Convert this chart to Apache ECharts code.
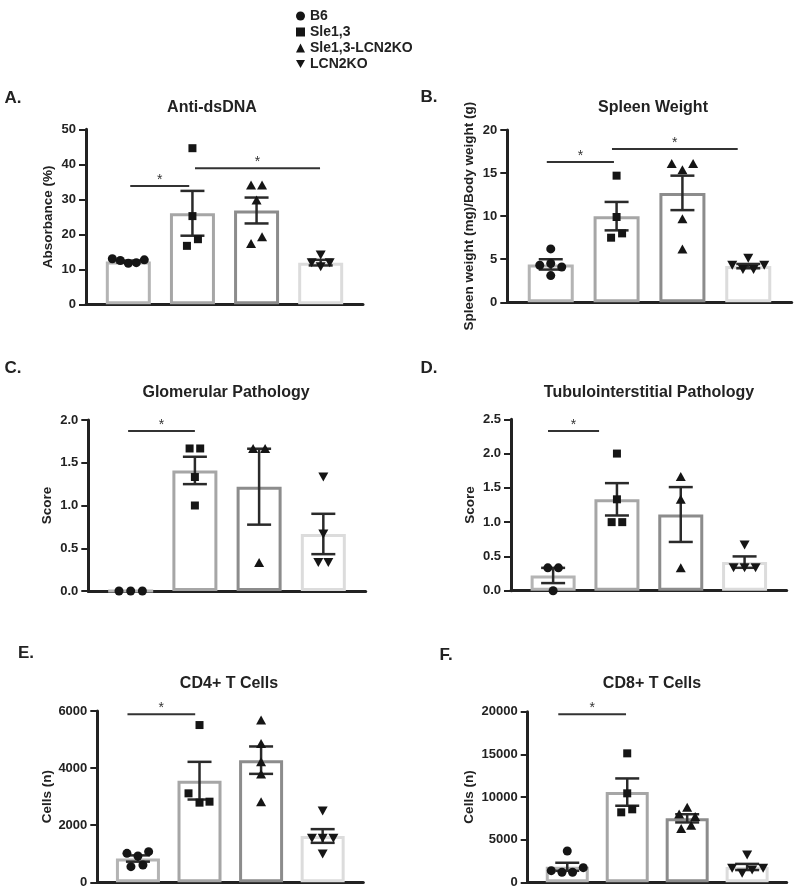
<!DOCTYPE html>
<html><head><meta charset="utf-8">
<script src="https://cdn.jsdelivr.net/npm/echarts@6/dist/echarts.min.js"></script>
<style>html,body{margin:0;padding:0;background:#fff}#c{width:800px;height:896px}</style>
</head><body><div id="c"></div>
<script>
// ---------- DATA ----------
const groups = ['B6', 'Sle1,3', 'Sle1,3-LCN2KO', 'LCN2KO'];

// A. Anti-dsDNA
const titleA = 'Anti-dsDNA';
const yNameA = 'Absorbance (%)';
const ticksA = [0, 10, 20, 30, 40, 50];
const meanA = [12.2, 26.0, 26.8, 11.9];
const semA = [0.3, 6.4, 3.7, 0.8];
const ptsA = [[13.0, 12.5, 11.7, 11.9, 12.7], [44.6, 25.2, 16.7, 18.6], [34.1, 34.1, 29.8, 17.4, 19.3], [14.1, 11.9, 10.7, 11.9]];
const sigA = [[0.03, 0.95, 33.8], [1.04, 2.99, 38.9]];

// B. Spleen Weight
const titleB = 'Spleen Weight';
const yNameB = 'Spleen weight (mg)/Body weight (g)';
const ticksB = [0, 5, 10, 15, 20];
const meanB = [4.4, 10.0, 12.7, 4.2];
const semB = [0.6, 1.65, 2.0, 0.25];
const ptsB = [[6.2, 4.3, 4.5, 4.1, 3.1], [14.7, 9.9, 7.5, 8.0], [16.1, 15.4, 16.1, 9.7, 6.2], [5.1, 4.3, 4.3, 3.8, 3.8]];
const sigB = [[-0.06, 0.96, 16.3], [0.93, 2.84, 17.8]];

// C. Glomerular Pathology
const titleC = 'Glomerular Pathology';
const yNameC = 'Score';
const ticksC = [0, 0.5, 1.0, 1.5, 2.0];
const meanC = [0, 1.41, 1.22, 0.667];
const semC = [0, 0.16, 0.444, 0.236];
const ptsC = [[0, 0, 0], [1.667, 1.667, 1.333, 1.0], [1.667, 1.667, 0.333], [1.333, 0.667, 0.333, 0.333]];
const sigC = [[-0.04, 1.0, 1.87]];

// D. Tubulointerstitial Pathology
const titleD = 'Tubulointerstitial Pathology';
const yNameD = 'Score';
const ticksD = [0, 0.5, 1.0, 1.5, 2.0, 2.5];
const meanD = [0.222, 1.333, 1.111, 0.417];
const semD = [0.111, 0.236, 0.4, 0.083];
const ptsD = [[0.333, 0.333, 0], [2.0, 1.333, 1.0, 1.0], [1.667, 1.333, 0.333], [0.667, 0.333, 0.333, 0.333]];
const sigD = [[-0.08, 0.72, 2.33]];

// E. CD4+ T Cells
const titleE = 'CD4+ T Cells';
const yNameE = 'Cells (n)';
const ticksE = [0, 2000, 4000, 6000];
const meanE = [833, 3559, 4278, 1622];
const semE = [110, 660, 480, 240];
const ptsE = [[1015, 922, 1074, 548, 607], [5508, 3116, 2789, 2824], [5683, 4866, 4224, 3792, 2824], [2497, 1540, 1540, 1540, 992]];
const sigE = [[-0.17, 0.93, 5882]];

// F. CD8+ T Cells
const titleF = 'CD8+ T Cells';
const yNameF = 'Cells (n)';
const ticksF = [0, 5000, 10000, 15000, 20000];
const meanF = [1820, 10576, 7500, 1797];
const semF = [470, 1600, 480, 360];
const ptsF = [[3672, 1367, 1172, 1172, 1719], [15117, 10430, 8203, 8555], [8800, 8000, 7700, 6700, 6300], [3202, 1642, 1056, 1443, 1642]];
const sigF = [[-0.15, 0.98, 19700]];

// ---------- LAYOUT / STYLE ----------
const FONT = '"Liberation Sans", Arial, Helvetica, sans-serif';
const INK = '#222';
const barColors = ['#b4b4b4', '#a6a6a6', '#8c8c8c', '#dcdcdc'];
const symbols = ['circle', 'rect', 'triangle', 'path://M0,0L10,0L5,9Z'];
const symSizes = [9, 8, [10, 9], [10, 9]];

// horizontal spread of points (pixels) within each group
const jitA = [[-16, -8, 0, 8, 16], [0, 0, -5.5, 5.5], [-5.5, 5.5, 0, -5.5, 5.5], [0, -9, 0, 9]];
const jitB = [[0, -11, 0, 11, 0], [0, 0, -5.5, 5.5], [-10.7, 0, 10.7, 0, 0], [0, -16, 16, -5.3, 5.3]];
const jitC = [[-11.7, 0, 11.7], [-5.3, 5.3, 0, 0], [-6, 6, 0], [0, 0, -5, 5]];
const jitD = [[-5.3, 5.3, 0], [0, 0, -5.3, 5.3], [0, 0, 0], [0, -11, 0, 11]];
const jitE = [[-11, 0, 10.7, -7, 5], [0, -11, 0, 10], [0, 0, 0, 0, 0], [0, -10.7, 0, 10.7, 0]];
const jitF = [[0, -16, -5.3, 5.3, 16], [0, 0, -6, 5], [0, -8, 8, 4, -6], [0, -15, -5, 5, 16]];

const panels = [
  {letter: 'A.', lx: 13, ly: 98, title: titleA, tx: 212, ty: 108, yName: yNameA, ticks: ticksA, mean: meanA, sem: semA, pts: ptsA, sig: sigA, jit: jitA,
   grid: {left: 86, top: 129.3, width: 277, height: 175}, nameGap: 31, barW: 45, dec: 0},
  {letter: 'B.', lx: 429, ly: 97, title: titleB, tx: 653, ty: 108, yName: yNameB, ticks: ticksB, mean: meanB, sem: semB, pts: ptsB, sig: sigB, jit: jitB,
   grid: {left: 507.3, top: 130, width: 284.4, height: 172.3}, nameGap: 31, barW: 46, dec: 0},
  {letter: 'C.', lx: 13, ly: 368, title: titleC, tx: 226, ty: 393, yName: yNameC, ticks: ticksC, mean: meanC, sem: semC, pts: ptsC, sig: sigC, jit: jitC,
   grid: {left: 88.3, top: 420, width: 277.4, height: 171}, nameGap: 34, barW: 45, dec: 1},
  {letter: 'D.', lx: 429, ly: 368, title: titleD, tx: 649, ty: 393, yName: yNameD, ticks: ticksD, mean: meanD, sem: semD, pts: ptsD, sig: sigD, jit: jitD,
   grid: {left: 511, top: 419.3, width: 275.7, height: 171.4}, nameGap: 34, barW: 45, dec: 1},
  {letter: 'E.', lx: 26, ly: 653, title: titleE, tx: 229, ty: 684, yName: yNameE, ticks: ticksE, mean: meanE, sem: semE, pts: ptsE, sig: sigE, jit: jitE,
   grid: {left: 97.3, top: 711, width: 266, height: 171.3}, nameGap: 43, barW: 44, dec: 0},
  {letter: 'F.', lx: 446, ly: 655, title: titleF, tx: 652, ty: 684, yName: yNameF, ticks: ticksF, mean: meanF, sem: semF, pts: ptsF, sig: sigF, jit: jitF,
   grid: {left: 527.7, top: 711.7, width: 259, height: 170.6}, nameGap: 51, barW: 43, dec: 0}
];

const XMIN = -0.66, XMAX = 3.66;

const grid = [], xAxis = [], yAxis = [], series = [], graphic = [];

panels.forEach((p, i) => {
  grid.push(Object.assign({containLabel: false}, p.grid));
  xAxis.push({
    type: 'value', gridIndex: i, min: XMIN, max: XMAX,
    axisLine: {show: true, onZero: false, lineStyle: {color: INK, width: 3}},
    axisTick: {show: false}, axisLabel: {show: false}, splitLine: {show: false}
  });
  const t = p.ticks;
  yAxis.push({
    type: 'value', gridIndex: i, min: t[0], max: t[t.length - 1], interval: t[1] - t[0],
    axisLine: {show: true, onZero: false, lineStyle: {color: INK, width: 3}},
    axisTick: {show: true, length: 7, lineStyle: {color: INK, width: 2}},
    axisLabel: {color: INK, fontSize: 13, fontWeight: 'bold', fontFamily: FONT, margin: 10,
      formatter: v => v.toFixed(p.dec)},
    splitLine: {show: false},
    name: p.yName, nameLocation: 'middle', nameGap: p.nameGap,
    nameTextStyle: {color: INK, fontSize: 13.5, fontWeight: 'bold', fontFamily: FONT}
  });

  // bars (means)
  series.push({
    type: 'bar', xAxisIndex: i, yAxisIndex: i, barWidth: p.barW, silent: true, z: 2,
    data: p.mean.map((m, g) => ({value: [g, m], itemStyle: {color: '#fff', borderColor: barColors[g], borderWidth: 3}}))
  });

  // error bars (mean ± SEM)
  series.push({
    type: 'custom', xAxisIndex: i, yAxisIndex: i, z: 3, silent: true,
    data: p.mean.map((m, g) => [g, m, p.sem[g]]),
    renderItem: (params, api) => {
      const x = api.value(0), m = api.value(1), s = api.value(2);
      if (!s) return null;
      const top = api.coord([x, m + s]), bot = api.coord([x, m - s]);
      const hw = 12, st = {stroke: '#2a2a2a', lineWidth: 2.5};
      return {type: 'group', children: [
        {type: 'line', shape: {x1: top[0], y1: top[1], x2: bot[0], y2: bot[1]}, style: st},
        {type: 'line', shape: {x1: top[0] - hw, y1: top[1], x2: top[0] + hw, y2: top[1]}, style: st},
        {type: 'line', shape: {x1: bot[0] - hw, y1: bot[1], x2: bot[0] + hw, y2: bot[1]}, style: st}
      ]};
    }
  });

  // individual points
  p.pts.forEach((vals, g) => {
    series.push({
      type: 'scatter', name: groups[g], xAxisIndex: i, yAxisIndex: i, z: 5,
      symbol: symbols[g], symbolSize: symSizes[g],
      itemStyle: {color: '#151515', opacity: 1},
      data: vals.map((v, k) => ({value: [g, v], symbolOffset: [p.jit[g][k] || 0, 0]}))
    });
  });

  // significance lines
  series.push({
    type: 'custom', xAxisIndex: i, yAxisIndex: i, z: 4, silent: true,
    data: p.sig,
    renderItem: (params, api) => {
      const a = api.coord([api.value(0), api.value(2)]);
      const b = api.coord([api.value(1), api.value(2)]);
      return {type: 'group', children: [
        {type: 'line', shape: {x1: a[0], y1: a[1], x2: b[0], y2: b[1]}, style: {stroke: '#333', lineWidth: 2}},
        {type: 'text', x: (a[0] + b[0]) / 2, y: a[1] - 6,
         style: {text: '*', fill: '#333', font: '14px ' + FONT, textAlign: 'center', textVerticalAlign: 'middle'}}
      ]};
    }
  });

  graphic.push({type: 'text', x: p.tx, y: p.ty,
    style: {text: p.title, fill: INK, font: 'bold 16px ' + FONT, textAlign: 'center', textVerticalAlign: 'middle'}});
  graphic.push({type: 'text', x: p.lx, y: p.ly,
    style: {text: p.letter, fill: INK, font: 'bold 17px ' + FONT, textAlign: 'center', textVerticalAlign: 'middle'}});
});

const chart = echarts.init(document.getElementById('c'), null, {renderer: 'canvas'});
chart.setOption({
  backgroundColor: '#fff',
  animation: false,
  legend: {
    data: groups.map((g, k) => ({name: g, icon: symbols[k]})),
    orient: 'vertical', left: 296, top: 9, padding: 0,
    itemWidth: 9, itemHeight: 9, itemGap: 2,
    textStyle: {color: INK, fontSize: 14, fontWeight: 'bold', fontFamily: FONT, lineHeight: 13}
  },
  grid, xAxis, yAxis, series, graphic
});
</script>
</body></html>
